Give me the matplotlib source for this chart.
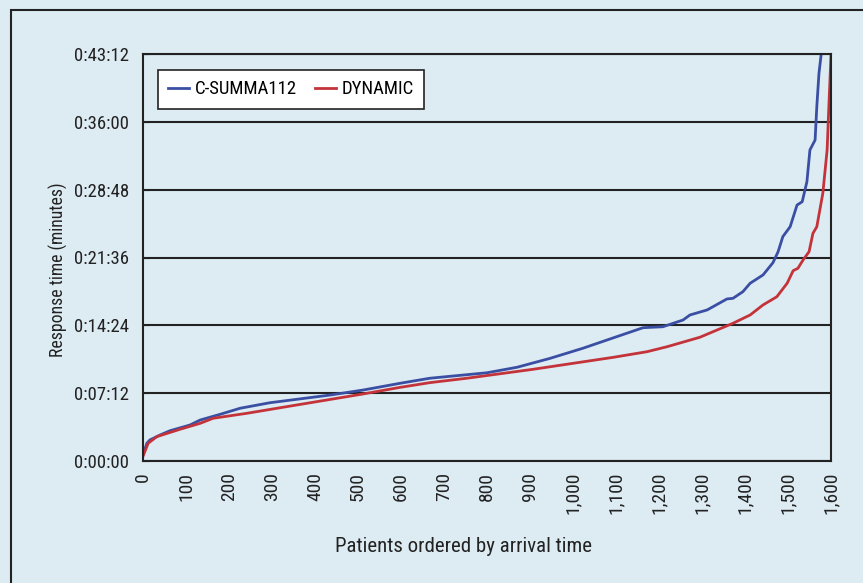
import matplotlib.pyplot as plt
import matplotlib.patches as mpatches
from matplotlib.ticker import FuncFormatter, MultipleLocator
from matplotlib import font_manager

# 数据：患者序号与响应时间（秒）
blue_n = [0, 9, 16, 40, 63, 109, 133, 179, 226, 295, 435, 512, 598, 667, 800, 870,
          947, 1023, 1102, 1163, 1209, 1256, 1272, 1312, 1358, 1372, 1395, 1412,
          1442, 1465, 1477, 1488, 1505, 1521, 1533, 1544, 1551, 1563, 1567, 1572,
          1577, 1582]
blue_s = [40, 113, 134, 166, 193, 229, 261, 297, 336, 371, 420, 452, 495, 527, 562, 597,
          654, 718, 792, 849, 855, 898, 930, 962, 1032, 1036, 1078, 1132,
          1185, 1263, 1333, 1429, 1492, 1630, 1651, 1779, 1981, 2044, 2257, 2469,
          2586, 2900]
red_n = [0, 12, 32, 86, 133, 163, 242, 358, 512, 598, 667, 753, 907, 1093, 1172, 1219,
         1295, 1372, 1412, 1442, 1474, 1498, 1512, 1523, 1535, 1549, 1558, 1567,
         1581, 1591, 1595, 1600, 1601]
red_s = [30, 113, 155, 202, 240, 272, 304, 357, 427, 469, 499, 527, 584, 660, 696, 728,
         788, 877, 930, 994, 1046, 1132, 1212, 1227, 1280, 1333, 1450, 1492,
         1705, 1981, 2257, 2586, 2900]
series_names = ['C-SUMMA112', 'DYNAMIC']

bg = '#ddebf3'
# 选一个窄体字体，没有就用 Liberation Sans
names = {f.name for f in font_manager.fontManager.ttflist}
fam = 'Liberation Sans'
for cand in ['Liberation Sans Narrow', 'Roboto Condensed', 'Open Sans Condensed',
             'Arial Narrow', 'Nimbus Sans Narrow', 'DejaVu Sans Condensed']:
    if cand in names:
        fam = cand
        break
narrow = fam != 'Liberation Sans'
plt.rcParams['font.family'] = [fam, 'DejaVu Sans']
fs = 13.5 if narrow else 12.5

fig = plt.figure(figsize=(8.63, 5.83), dpi=100, facecolor=bg)
# 外框
fig.patches.append(mpatches.Rectangle((11 / 863, -0.1), 1.2, 1 - 10 / 583 + 0.1,
                                      transform=fig.transFigure, fill=False,
                                      edgecolor='#222222', linewidth=1.5))
ax = fig.add_axes([143 / 863, 1 - 461 / 583, 688 / 863, 407 / 583])
ax.set_facecolor(bg)

ax.plot(blue_n, blue_s, color='#3a4fa3', lw=2, label=series_names[0])
ax.plot(red_n, red_s, color='#c4333a', lw=2, label=series_names[1])

ax.set_xlim(0, 1600)
ax.set_ylim(0, 2592)
ax.yaxis.set_major_locator(MultipleLocator(432))
ax.xaxis.set_major_locator(MultipleLocator(100))


def fmt_time(v, pos):
    v = int(round(v))
    return '%d:%02d:%02d' % (v // 3600, (v % 3600) // 60, v % 60)


ax.yaxis.set_major_formatter(FuncFormatter(fmt_time))
ax.xaxis.set_major_formatter(FuncFormatter(lambda v, p: '{:,}'.format(int(v))))
ax.grid(axis='y', color='#222222', lw=1.5)
ax.set_axisbelow(True)
for s in ax.spines.values():
    s.set_color('#222222')
    s.set_linewidth(1.5)
ax.tick_params(axis='x', length=0, pad=8, labelsize=fs + 0.5, labelrotation=90, colors='#222222')
ax.tick_params(axis='y', direction='in', length=4, pad=10, labelsize=fs, colors='#222222')

# 轴标题位置按原图微调
ax.set_ylabel('Response time (minutes)', fontsize=fs - 0.8, color='#222222')
ax.yaxis.set_label_coords((68 - 143) / 688, (461 - 270) / 407)
ax.set_xlabel('Patients ordered by arrival time', fontsize=fs + 1.5, color='#222222')
ax.xaxis.set_label_coords((463 - 143) / 688, -(537 - 461) / 407)

leg = ax.legend(loc='upper left', bbox_to_anchor=(15 / 688, 1 - 16 / 407), ncol=2,
                fontsize=fs, frameon=True, fancybox=False, handlelength=1.1,
                handletextpad=0.3, columnspacing=1.0, borderpad=0.55, borderaxespad=0)
leg.get_frame().set_edgecolor('#222222')
leg.get_frame().set_linewidth(1.2)
leg.get_frame().set_facecolor('white')
leg.get_frame().set_alpha(1)

plt.savefig('out.png', dpi=100, facecolor=bg)
